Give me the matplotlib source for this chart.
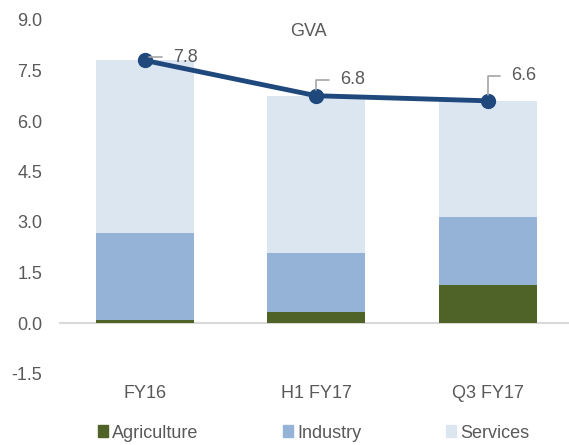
import matplotlib
matplotlib.use("Agg")
import matplotlib.pyplot as plt
from matplotlib.patches import Patch

plt.rcParams['font.family'] = ['Liberation Sans', 'DejaVu Sans']

categories = ["FY16", "H1 FY17", "Q3 FY17"]
agriculture = [0.10, 0.33, 1.14]
industry = [2.56, 1.75, 2.00]
services = [5.14, 4.67, 3.46]
gva = [7.8, 6.75, 6.6]
yticks = [-1.5, 0.0, 1.5, 3.0, 4.5, 6.0, 7.5, 9.0]

c_agri = "#4f6228"
c_ind = "#95b3d7"
c_srv = "#dce6f1"
c_line = "#1f497d"
c_text = "#595959"
fs = 13

fig = plt.figure(figsize=(5.69, 4.45), dpi=100)
ax = fig.add_axes([59/569, 1-373.5/445, 1-59/569, (373.5-20)/445])

x = list(range(len(categories)))
w = 0.571
ax.bar(x, agriculture, width=w, color=c_agri, zorder=2)
bot2 = agriculture
ax.bar(x, industry, width=w, bottom=bot2, color=c_ind, zorder=2)
bot3 = [a + b for a, b in zip(agriculture, industry)]
ax.bar(x, services, width=w, bottom=bot3, color=c_srv, zorder=2)

ax.axhline(0, color="#d9d9d9", lw=1.5, zorder=1)

ax.plot(x, gva, color=c_line, lw=3.5, marker='o', ms=10, zorder=4,
        solid_capstyle='round')

offsets = [(28, 3), (24, 16), (23, 25)]
for xi, v, (dx, dy) in zip(x, gva, offsets):
    ax.annotate(f"{v:.1f}", xy=(xi, v), xytext=(dx, dy), textcoords='offset pixels',
                ha='left', va='center', fontsize=fs, color=c_text, zorder=5,
                arrowprops=dict(arrowstyle='-', color='#a6a6a6', lw=1.2,
                                connectionstyle='angle,angleA=0,angleB=90,rad=0',
                                relpos=(0, 0.5), shrinkA=6, shrinkB=4))

ax.text((308-59)/510, 1-(31-20)/353.5, "GVA", transform=ax.transAxes,
        ha='center', va='center', fontsize=fs, color=c_text)

ax.set_ylim(-1.5, 9.0)
ax.set_xlim(-0.5, -0.5 + 510/171.5)
ax.set_yticks(yticks)
ax.set_yticklabels([f"{t:.1f}" for t in yticks])
ax.set_xticks(x)
ax.set_xticklabels(categories)
ax.tick_params(axis='both', length=0, labelsize=fs, colors=c_text)
ax.tick_params(axis='y', pad=12)
ax.tick_params(axis='x', pad=8)
for s in ax.spines.values():
    s.set_visible(False)

handles = [Patch(color=c_agri), Patch(color=c_ind), Patch(color=c_srv)]
leg = fig.legend(handles, ["Agriculture", "Industry", "Services"], ncol=3,
                 loc='center', bbox_to_anchor=(0.551, 1-433/445), frameon=False,
                 handlelength=0.55, handleheight=0.6, handletextpad=0.22,
                 columnspacing=4.7, fontsize=fs, borderpad=0, borderaxespad=0)
for t in leg.get_texts():
    t.set_color(c_text)

fig.savefig("out.png", dpi=100)
